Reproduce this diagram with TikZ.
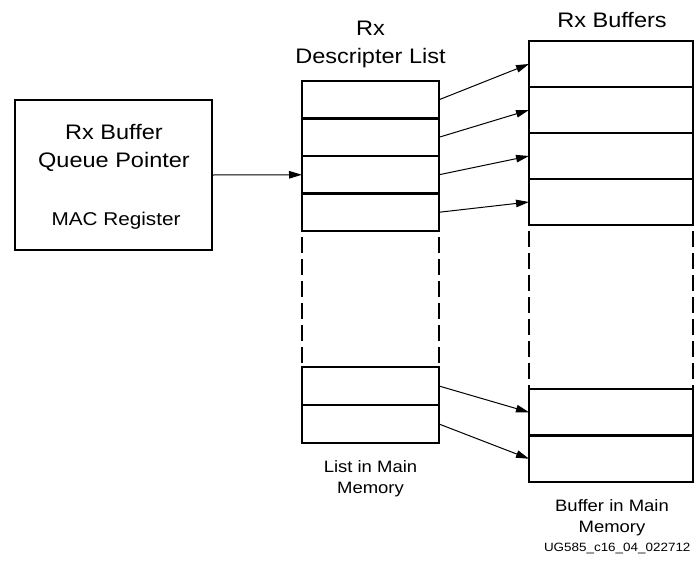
\documentclass[tikz,border=0pt]{standalone}
\usepackage{fontspec}
\setmainfont{Liberation Sans}[FakeStretch=1.12]
\usetikzlibrary{arrows.meta}

\tikzset{
  desc/.style={draw, rectangle, line width=2.5pt, inner sep=0pt, outer sep=0pt,
    minimum width=137pt, minimum height=37.5pt, anchor=north west},
  buf/.style={draw, rectangle, line width=2.5pt, inner sep=0pt, outer sep=0pt,
    minimum width=164pt, minimum height=46pt, anchor=north west},
  gapline/.style={line width=2.5pt, dash pattern=on 16pt off 6pt, dash phase=16pt},
  ptr/.style={line width=1pt, -{Triangle[length=13pt, width=7.5pt]}},
  head/.style={align=center, anchor=base, font=\fontsize{21}{28}\selectfont},
  note/.style={align=center, anchor=base, font=\fontsize{16.5}{21}\selectfont}
}

\begin{document}
\begin{tikzpicture}[x=1pt, y=-1pt]
  \useasboundingbox (0,0) rectangle (695,560);

  % ================= 左侧：寄存器 =================
  \node[draw, rectangle, line width=2.5pt, inner sep=0pt, outer sep=0pt,
    minimum width=197pt, minimum height=150pt] (qp) at (113.5,175) {};
  % 多行文字按最后一行基线定位
  \node[head] (qptext) at (114,167) {Rx Buffer\\Queue Pointer};
  \node[anchor=base, font=\fontsize{18.5}{22}\selectfont] (mac) at (116,225) {MAC Register};

  % ================= 中间：描述符列表 =================
  \node[head] (desctitle) at (370.5,63) {Rx\\Descripter List};
  \node[desc] (d1) at (302,81) {};
  \node[desc] (d2) at (302,118.5) {};
  \node[desc] (d3) at (302,156) {};
  \node[desc] (d4) at (302,193.5) {};
  \node[desc, minimum height=38pt] (d5) at (302,367) {};
  \node[desc, minimum height=38pt] (d6) at (302,405) {};
  \draw[gapline] (d4.south west) -- (d5.north west);
  \draw[gapline] (d4.south east) -- (d5.north east);
  \node[note] (desclabel) at (370.5,493) {List in Main\\Memory};

  % ================= 右侧：缓冲区 =================
  \node[head] (buftitle) at (612,27) {Rx Buffers};
  \node[buf] (b1) at (529,41) {};
  \node[buf] (b2) at (529,87) {};
  \node[buf] (b3) at (529,133) {};
  \node[buf] (b4) at (529,179) {};
  \node[buf, minimum height=46.5pt] (b5) at (529,389) {};
  \node[buf, minimum height=46.5pt] (b6) at (529,435.5) {};
  \draw[gapline] (b4.south west) -- (b5.north west);
  \draw[gapline] (b4.south east) -- (b5.north east);
  \node[note] (buflabel) at (612,532) {Buffer in Main\\Memory};

  % 指针箭头
  \draw[ptr] (qp.east) -- (d3.west);
  \draw[ptr] (d1.east) -- (b1.west);
  \draw[ptr] (d2.east) -- (b2.west);
  \draw[ptr] (d3.east) -- (b3.west);
  \draw[ptr] (d4.east) -- (b4.west);
  \draw[ptr] (d5.east) -- (b5.west);
  \draw[ptr] (d6.east) -- (b6.west);

  \node[anchor=base east, font=\fontsize{12}{14}\selectfont] (figid) at (694,551) {UG585\_c16\_04\_022712};
\end{tikzpicture}
\end{document}
